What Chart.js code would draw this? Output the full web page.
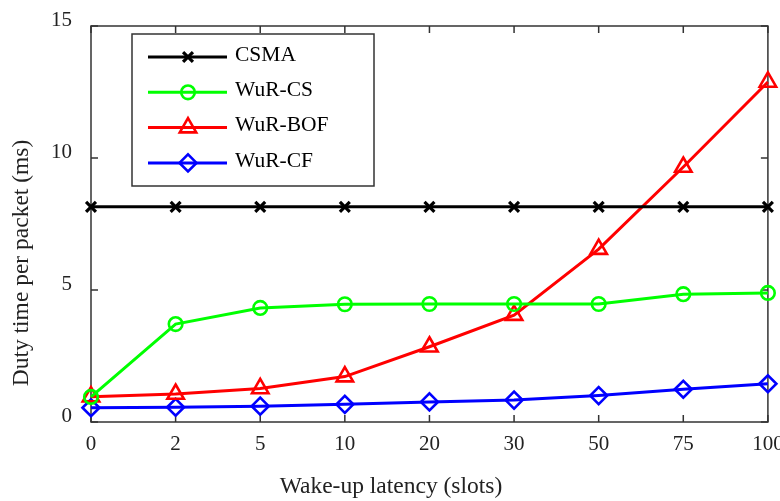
<!DOCTYPE html>
<html>
<head>
<meta charset="utf-8">
<script src="https://cdn.jsdelivr.net/npm/chart.js@4/dist/chart.umd.min.js"></script>
<style>
  html, body { margin: 0; padding: 0; background: #fff; }
  #wrap { width: 780px; height: 501px; }
</style>
</head>
<body>
<div id="wrap"><canvas id="dutyChart" width="780" height="501"></canvas></div>
<script>
// wake-up latency categories (slots)
const latencies = ['0', '2', '5', '10', '20', '30', '50', '75', '100']
const yTicks = [0, 5, 10, 15]

// duty time per packet (ms)
const csma   = [8.15, 8.15, 8.15, 8.15, 8.15, 8.15, 8.15, 8.15, 8.15]
const wurCS  = [0.95, 3.71, 4.32, 4.46, 4.47, 4.47, 4.47, 4.84, 4.89]
const wurBOF = [0.96, 1.06, 1.27, 1.72, 2.85, 4.05, 6.55, 9.66, 12.88]
const wurCF  = [0.54, 0.56, 0.60, 0.67, 0.76, 0.83, 1.00, 1.24, 1.45]

const xTitle = 'Wake-up latency (slots)'
const yTitle = 'Duty time per packet (ms)'

const serif = '"Liberation Serif", "DejaVu Serif", serif'

const makeSet = (label, data, color, style, radius, markerWidth) => ({
  label: label,
  data: data,
  borderColor: color,
  backgroundColor: 'rgba(0,0,0,0)',
  borderWidth: 3,
  pointStyle: style,
  pointRadius: radius,
  pointBorderWidth: markerWidth,
  pointBorderColor: color,
  pointBackgroundColor: 'rgba(0,0,0,0)',
  tension: 0,
  clip: false
})

// frame with inward ticks on all four sides, plus the axis titles
const framePlugin = {
  id: 'frame',
  beforeDatasetsDraw(chart) {
    const { ctx, chartArea: a, scales } = chart
    ctx.save()
    ctx.strokeStyle = '#333'
    ctx.lineWidth = 1.5
    ctx.strokeRect(a.left, a.top, a.right - a.left, a.bottom - a.top)
    const tl = 7
    ctx.beginPath()
    latencies.forEach((lab, i) => {
      const x = scales.x.getPixelForValue(i)
      ctx.moveTo(x, a.bottom); ctx.lineTo(x, a.bottom - tl)
      ctx.moveTo(x, a.top); ctx.lineTo(x, a.top + tl)
    })
    yTicks.forEach(v => {
      const y = scales.y.getPixelForValue(v)
      ctx.moveTo(a.left, y); ctx.lineTo(a.left + tl, y)
      ctx.moveTo(a.right, y); ctx.lineTo(a.right - tl, y)
    })
    ctx.stroke()

    // titles sit a bit left / low of the axis centre in the original
    ctx.fillStyle = '#222'
    ctx.font = '23.5px ' + serif
    ctx.textAlign = 'center'
    ctx.textBaseline = 'middle'
    ctx.fillText(xTitle, 391, 487)
    ctx.translate(22, 263)
    ctx.rotate(-Math.PI / 2)
    ctx.fillText(yTitle, 0, 0)
    ctx.restore()
  }
}

// legend box drawn inside the plot, upper left
const legendPlugin = {
  id: 'boxLegend',
  afterDatasetsDraw(chart) {
    const { ctx } = chart
    const box = { x: 132, y: 34, w: 242, h: 152 }
    ctx.save()
    ctx.fillStyle = '#fff'
    ctx.fillRect(box.x, box.y, box.w, box.h)
    ctx.strokeStyle = '#333'
    ctx.lineWidth = 1.5
    ctx.strokeRect(box.x, box.y, box.w, box.h)
    ctx.font = '21.5px ' + serif
    ctx.textBaseline = 'middle'
    chart.data.datasets.forEach((ds, i) => {
      const y = 57 + i * 35.3
      ctx.strokeStyle = ds.borderColor
      ctx.lineWidth = ds.borderWidth
      ctx.beginPath()
      ctx.moveTo(148, y); ctx.lineTo(227, y)
      ctx.stroke()
      ctx.lineWidth = ds.pointBorderWidth
      ctx.fillStyle = 'rgba(0,0,0,0)'
      Chart.helpers.drawPoint(ctx, {
        pointStyle: ds.pointStyle, radius: ds.pointRadius, rotation: 0, borderWidth: ds.pointBorderWidth
      }, 188, y)
      ctx.fillStyle = '#000'
      ctx.fillText(ds.label, 235, y - 2)
    })
    ctx.restore()
  }
}

new Chart(document.getElementById('dutyChart'), {
  type: 'line',
  data: {
    labels: latencies,
    datasets: [
      makeSet('CSMA', csma, '#000000', 'crossRot', 7, 3.2),
      makeSet('WuR-CS', wurCS, '#00ff00', 'circle', 6.8, 2.6),
      makeSet('WuR-BOF', wurBOF, '#ff0000', 'triangle', 9.5, 2.6),
      makeSet('WuR-CF', wurCF, '#0000ff', 'rectRot', 8.5, 2.6)
    ]
  },
  options: {
    responsive: false,
    animation: false,
    layout: { padding: { top: 26, right: 12, left: 0, bottom: 0 } },
    plugins: { legend: { display: false }, tooltip: { enabled: false } },
    scales: {
      x: {
        type: 'category',
        offset: false,
        grid: { display: false, drawTicks: false },
        border: { display: false },
        ticks: { color: '#222', font: { family: serif, size: 21 }, padding: 10, maxRotation: 0, autoSkip: false },
        title: { display: false },
        afterFit(scale) {
          scale.height = 79
          scale.paddingLeft = 0
          scale.paddingRight = 0
        }
      },
      y: {
        min: 0,
        max: 15,
        afterBuildTicks(scale) { scale.ticks = yTicks.map(v => ({ value: v })) },
        grid: { display: false, drawTicks: false },
        border: { display: false },
        ticks: { color: '#222', font: { family: serif, size: 21 }, padding: 19, labelOffset: -6 },
        title: { display: false },
        afterFit(scale) {
          scale.width = 91
          scale.paddingTop = 0
          scale.paddingBottom = 0
        }
      }
    }
  },
  plugins: [framePlugin, legendPlugin]
})
</script>
</body>
</html>
